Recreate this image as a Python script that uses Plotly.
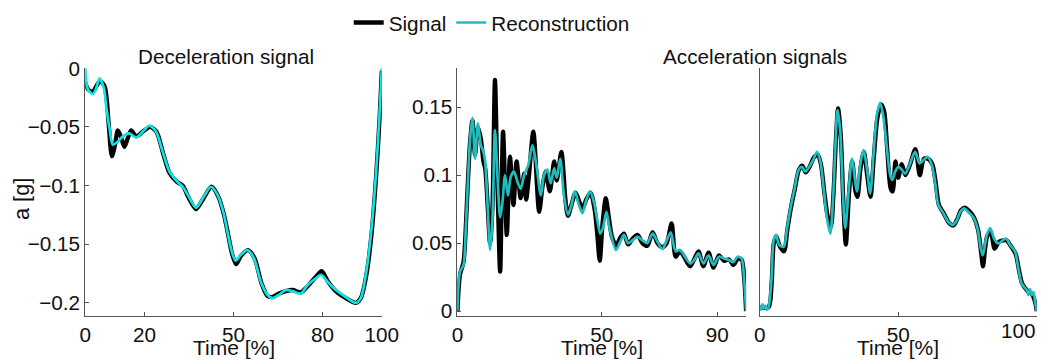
import plotly.graph_objects as go

# ---------------- data ----------------
dec_t_rec = [0, 0.9, 2.6, 3.7, 4.8, 6.3, 7.0, 8.2, 9.3, 11.0, 12.7, 14.9, 17.2, 19.4, 21.6, 23.9,
             26.1, 28.4, 31.2, 32.9, 34.6, 37.4, 39.6, 42.4, 44.6, 46.5, 48.0, 49.3, 50.7, 52.5,
             54.7, 56.9, 59.2, 61.4, 63.1, 65.4, 67.6, 69.9, 72.7, 74.9, 77.7, 79.5, 81.7, 84.5,
             87.9, 91.2, 92.9, 94.6, 96.3, 98.0, 99.2, 100]
dec_rec = [0, -0.018, -0.022, -0.017, -0.0085, -0.017, -0.031, -0.051, -0.065, -0.0625, -0.058,
           -0.0555, -0.059, -0.054, -0.049, -0.054, -0.071, -0.088, -0.097, -0.101, -0.108, -0.119,
           -0.111, -0.101, -0.108, -0.122, -0.140, -0.155, -0.164, -0.159, -0.155, -0.162, -0.182,
           -0.193, -0.196, -0.193, -0.189, -0.190, -0.192, -0.185, -0.179, -0.176, -0.182, -0.189,
           -0.195, -0.200, -0.196, -0.176, -0.142, -0.091, -0.040, 0]
dec_t_sig = [0, 1.0, 2.6, 3.8, 5.0, 6.5, 7.2, 8.0, 9.0, 10.0, 11.0, 12.0, 13.2, 14.3, 15.5, 17.2,
             19.4, 20.5, 21.8, 24.0, 26.3, 28.4, 31.0, 32.9, 34.6, 37.4, 39.6, 42.6, 44.8, 46.7,
             48.2, 49.5, 50.9, 52.5, 54.9, 57.1, 59.4, 61.4, 63.1, 65.4, 67.6, 69.9, 72.7, 74.9,
             77.7, 79.7, 81.9, 84.5, 87.9, 91.2, 92.9, 94.8, 96.5, 98.1, 99.3, 100]
dec_sig = [-0.012, -0.018, -0.020, -0.015, -0.011, -0.015, -0.025, -0.050, -0.075, -0.066, -0.053,
           -0.058, -0.067, -0.060, -0.053, -0.058, -0.054, -0.052, -0.050, -0.054, -0.073, -0.089,
           -0.097, -0.100, -0.109, -0.120, -0.112, -0.101, -0.109, -0.124, -0.142, -0.158, -0.167,
           -0.160, -0.155, -0.162, -0.183, -0.194, -0.195, -0.192, -0.190, -0.189, -0.191, -0.186,
           -0.178, -0.173, -0.182, -0.190, -0.196, -0.200, -0.196, -0.176, -0.142, -0.091, -0.040,
           -0.002]

acc1_t_rec = [0, 0.9, 2.1, 2.9, 3.5, 4.4, 5.2, 6.1, 7.1, 8.1, 9.0, 9.6, 10.4, 11.3, 12.1, 13.0,
              13.9, 14.8, 15.6, 16.5, 17.5, 18.5, 19.6, 20.8, 21.9, 23.1, 24.5, 26.0, 27.5, 28.9,
              30.0, 31.2, 32.3, 33.5, 34.4, 35.6, 36.9, 38.3, 39.5, 40.7, 42.1, 43.3, 44.4, 45.9,
              47.3, 48.5, 49.5, 50.5, 51.6, 52.7, 54.9, 56.4, 57.7, 59.1, 60.6, 62.4, 64.1, 65.8,
              67.6, 69.3, 71.0, 72.5, 73.9, 75.6, 77.1, 78.5, 80.6, 82.0, 83.5, 85.2, 87.0, 88.7,
              90.6, 92.4, 94.1, 95.6, 97.0, 98.4, 99.3, 100]
acc1_rec = [0.0007, 0.029, 0.034, 0.061, 0.090, 0.127, 0.142, 0.112, 0.138, 0.122, 0.117, 0.110,
            0.080, 0.045, 0.066, 0.133, 0.098, 0.069, 0.080, 0.100, 0.085, 0.099, 0.1025, 0.095,
            0.090, 0.100, 0.107, 0.122, 0.105, 0.085, 0.100, 0.104, 0.094, 0.105, 0.098, 0.112,
            0.085, 0.071, 0.078, 0.088, 0.078, 0.072, 0.080, 0.088, 0.080, 0.066, 0.057, 0.062,
            0.073, 0.061, 0.045, 0.051, 0.056, 0.050, 0.052, 0.0547, 0.052, 0.050, 0.057, 0.051,
            0.0456, 0.052, 0.058, 0.044, 0.045, 0.041, 0.035, 0.0375, 0.0424, 0.035, 0.041, 0.034,
            0.040, 0.0387, 0.0375, 0.036, 0.040, 0.0387, 0.024, 0.0]
acc1_t_sig = [0, 0.9, 2.1, 2.9, 3.5, 4.4, 5.2, 6.1, 7.1, 8.1, 9.0, 9.6, 10.4, 11.3, 12.1, 13.0,
              13.9, 14.8, 15.8, 17.1, 18.2, 19.4, 20.5, 21.9, 23.1, 23.8, 24.8, 26.3, 28.3, 29.5,
              30.6, 32.0, 33.5, 34.4, 36.0, 37.5, 38.3, 39.5, 40.9, 42.3, 43.3, 44.6, 46.1, 47.5,
              48.5, 49.3, 50.3, 51.4, 52.5, 53.5, 55.0, 56.4, 57.7, 59.1, 60.6, 62.4, 64.1, 65.8,
              67.6, 69.3, 71.0, 72.5, 74.2, 75.6, 77.1, 78.5, 80.6, 82.0, 83.5, 85.2, 87.0, 88.7,
              90.6, 92.4, 94.1, 95.6, 97.0, 98.4, 99.3, 100]
acc1_sig = [0.0, 0.027, 0.036, 0.062, 0.090, 0.125, 0.140, 0.115, 0.135, 0.127, 0.110, 0.105,
            0.080, 0.050, 0.075, 0.170, 0.090, 0.029, 0.132, 0.056, 0.1135, 0.078, 0.110, 0.083,
            0.101, 0.082, 0.100, 0.132, 0.073, 0.092, 0.1025, 0.088, 0.110, 0.096, 0.117, 0.080,
            0.070, 0.078, 0.087, 0.080, 0.075, 0.082, 0.087, 0.075, 0.055, 0.037, 0.065, 0.083,
            0.068, 0.055, 0.048, 0.054, 0.057, 0.049, 0.053, 0.056, 0.050, 0.048, 0.058, 0.050,
            0.047, 0.050, 0.0645, 0.040, 0.044, 0.040, 0.033, 0.038, 0.044, 0.033, 0.043, 0.032,
            0.041, 0.037, 0.038, 0.034, 0.038, 0.038, 0.025, 0.0]

acc2_t_rec = [0, 0.5, 1.0, 1.5, 2.0, 2.5, 3.2, 4.2, 5.0, 5.9, 7.1, 8.7, 9.9, 11.1, 12.6, 14.1,
              15.3, 16.5, 17.9, 19.5, 20.7, 21.9, 23.1, 24.3, 25.5, 26.5, 27.3, 28.1, 29.1, 30.0,
              30.9, 32.1, 33.3, 34.5, 35.1, 36.3, 37.5, 38.7, 39.9, 41.1, 42.3, 43.5, 44.7, 45.9,
              47.1, 47.9, 48.9, 50.1, 51.3, 52.5, 54.1, 56.1, 57.7, 59.1, 60.6, 62.1, 63.3, 64.5,
              66.3, 68.1, 69.7, 71.2, 72.4, 73.8, 75.7, 77.1, 78.6, 79.8, 80.5, 82.0, 83.2, 84.6,
              86.2, 87.7, 88.9, 90.4, 92.2, 93.4, 94.6, 96.4, 97.0, 97.6, 98.2, 98.8, 99.4, 100]
acc2_rec = [0.004, 0.001, 0.005, 0.002, 0.004, 0.001, 0.003, 0.0216, 0.051, 0.056, 0.0486, 0.0473,
            0.061, 0.0755, 0.090, 0.104, 0.106, 0.1025, 0.106, 0.112, 0.117, 0.110, 0.090, 0.068,
            0.057, 0.083, 0.120, 0.148, 0.132, 0.088, 0.061, 0.088, 0.112, 0.095, 0.088, 0.1075,
            0.1185, 0.105, 0.0866, 0.115, 0.144, 0.153, 0.142, 0.120, 0.100, 0.0965, 0.1025, 0.106,
            0.104, 0.101, 0.1075, 0.117, 0.1086, 0.111, 0.1135, 0.1075, 0.095, 0.078, 0.072,
            0.0657, 0.0633, 0.067, 0.073, 0.0755, 0.072, 0.069, 0.061, 0.046, 0.041, 0.056, 0.061,
            0.0534, 0.0497, 0.052, 0.0534, 0.0486, 0.0436, 0.031, 0.020, 0.0155, 0.012, 0.016,
            0.0118, 0.014, 0.007, 0.0]
acc2_t_sig = [0, 3.2, 4.3, 5.1, 6.0, 7.2, 8.8, 10.0, 11.2, 12.7, 14.2, 15.4, 16.6, 18.0, 19.6,
              20.9, 22.1, 23.3, 24.5, 25.7, 26.6, 27.5, 28.3, 29.3, 30.2, 31.1, 32.3, 33.4, 34.6,
              35.3, 36.4, 37.6, 38.8, 40.0, 41.2, 42.5, 43.8, 44.9, 46.0, 47.3, 48.0, 49.0, 50.0,
              51.3, 52.6, 54.3, 56.2, 57.8, 59.3, 60.7, 62.3, 63.5, 64.7, 66.4, 68.3, 69.9, 71.4,
              72.6, 74.0, 75.9, 77.3, 78.8, 80.0, 80.6, 82.1, 83.4, 84.8, 86.4, 87.9, 89.1, 90.6,
              92.4, 93.6, 94.8, 96.6, 98.4, 99.5, 100]
acc2_sig = [0.003, 0.003, 0.020, 0.050, 0.055, 0.048, 0.044, 0.060, 0.075, 0.090, 0.104, 0.107,
            0.102, 0.106, 0.113, 0.115, 0.108, 0.088, 0.070, 0.062, 0.085, 0.125, 0.149, 0.128,
            0.080, 0.049, 0.088, 0.110, 0.088, 0.084, 0.105, 0.117, 0.100, 0.084, 0.113, 0.142,
            0.152, 0.147, 0.120, 0.090, 0.088, 0.110, 0.098, 0.108, 0.100, 0.108, 0.119, 0.100,
            0.112, 0.112, 0.108, 0.095, 0.078, 0.072, 0.065, 0.063, 0.068, 0.074, 0.076, 0.073,
            0.069, 0.060, 0.042, 0.033, 0.055, 0.058, 0.046, 0.051, 0.052, 0.052, 0.048, 0.042,
            0.030, 0.020, 0.015, 0.012, 0.006, 0.0]

dec_ticks = [0, -0.05, -0.1, -0.15, -0.2]
dec_ticktext = ["0", "\u22120.05", "\u22120.1", "\u22120.15", "\u22120.2"]
acc_ticks = [0, 0.05, 0.1, 0.15]
acc_ticktext = ["0", "0.05", "0.1", "0.15"]
dec_xticks = [0, 20, 50, 80, 100]
acc1_xticks = [0, 50, 90]
acc2_xticks = [0, 50, 100]
acc2_xticktext = ["0", "50", ""]   # the "100" label is set right-aligned at the page edge

# ---------------- figure ----------------
W, H = 1055, 364
# The photographed page lands in a slightly smaller box of the picture;
# these convert a position seen in the picture into a page position.
SX, OX = 0.9794, 4.7
SY, OY = 0.952, 9.5
FS = 1.0 / ((SX + SY) / 2)   # font compensation

FONT = "Liberation Sans, Arial, Helvetica, sans-serif"
SIG_COLOR = "#000000"
REC_COLOR = "#1fbdbd"
REC_COLOR_LEFT = "#0fe3e3"
SIG_W = 4.3
REC_W = 2.7


def px(v):
    return min(1.0, max(0.0, (v - OX) / SX / W))


def py(v):
    return min(1.0, max(0.0, 1 - (v - OY) / SY / H))


fig = go.Figure()


def add_pair(ts, ys, tr, yr, xa, ya, rec_color, show):
    fig.add_trace(go.Scatter(x=ts, y=ys, mode="lines", name="Signal",
                             line=dict(color=SIG_COLOR, width=SIG_W, shape="spline", smoothing=0.8),
                             xaxis=xa, yaxis=ya, showlegend=show, legendgroup="sig"))
    fig.add_trace(go.Scatter(x=tr, y=yr, mode="lines", name="Reconstruction",
                             line=dict(color=rec_color, width=REC_W, shape="spline", smoothing=0.8),
                             xaxis=xa, yaxis=ya, showlegend=show, legendgroup="rec"))


add_pair(dec_t_sig, dec_sig, dec_t_rec, dec_rec, "x", "y", REC_COLOR_LEFT, False)
add_pair(acc1_t_sig, acc1_sig, acc1_t_rec, acc1_rec, "x2", "y2", REC_COLOR, True)
add_pair(acc2_t_sig, acc2_sig, acc2_t_rec, acc2_rec, "x3", "y3", REC_COLOR, False)

ydom = [py(314), py(66)]
TICK_FS = 20 * FS
axis_common = dict(showline=True, linecolor="#555555", linewidth=1, ticks="inside", ticklen=4,
                   tickcolor="#555555", showgrid=False, zeroline=False, mirror=False,
                   tickfont=dict(family=FONT, size=TICK_FS, color="#111111"))

fig.update_layout(
    width=W, height=H, autosize=False,
    margin=dict(l=0, r=0, t=0, b=0),
    paper_bgcolor="white", plot_bgcolor="white",
    font=dict(family=FONT, size=20 * FS, color="#111111"),
    xaxis=dict(domain=[px(84), px(381)], range=[0, 100], anchor="y",
               tickvals=dec_xticks, **axis_common),
    yaxis=dict(domain=ydom, range=[-0.2111, 0.0006], anchor="x",
               tickvals=dec_ticks, ticktext=dec_ticktext, **axis_common),
    xaxis2=dict(domain=[px(456.7), px(745.7)], range=[0, 100], anchor="y2",
                tickvals=acc1_xticks, **axis_common),
    yaxis2=dict(domain=ydom, range=[-0.0035, 0.179], anchor="x2",
                tickvals=acc_ticks, ticktext=acc_ticktext, **axis_common),
    xaxis3=dict(domain=[px(759.3), px(1036.7)], range=[0, 100], anchor="y3",
                tickvals=acc2_xticks, ticktext=acc2_xticktext, **axis_common),
    yaxis3=dict(domain=ydom, range=[-0.0035, 0.179], anchor="x3",
                tickvals=acc_ticks, showticklabels=False,
                **{k: v for k, v in axis_common.items() if k not in ("ticks",)}, ticks=""),
    legend=dict(orientation="h", x=px(491), xanchor="center", y=py(21), yanchor="middle",
                font=dict(family=FONT, size=20 * FS, color="#111111"),
                bgcolor="rgba(0,0,0,0)", itemwidth=30, tracegroupgap=0),
    showlegend=True,
)

annos = [
    dict(text="Deceleration signal", x=px(225), y=py(55), size=20 * FS),
    dict(text="Acceleration signals", x=px(754.5), y=py(55), size=20 * FS),
    dict(text="Time [%]", x=px(233), y=py(346), size=21),
    dict(text="Time [%]", x=px(601), y=py(346), size=21),
    dict(text="Time [%]", x=px(898), y=py(346), size=21),
    dict(text="a [g]", x=px(20), y=py(197), textangle=-90, size=21 * FS),
]
for a in annos:
    size = a.pop("size")
    fig.add_annotation(xref="paper", yref="paper", showarrow=False, xanchor="center",
                       yanchor="middle", font=dict(family=FONT, size=size, color="#111111"), **a)

# end label of the right time axis, kept inside the page
fig.add_annotation(xref="paper", yref="paper", showarrow=False, xanchor="right", yanchor="middle",
                   x=1.0, y=py(329), text="100",
                   font=dict(family=FONT, size=TICK_FS, color="#111111"))

fig.write_html(
    "out.html",
    config={"displayModeBar": False},
    post_script="document.body.style.margin='0';document.body.style.overflow='hidden';"
                "document.documentElement.style.overflow='hidden';",
)
